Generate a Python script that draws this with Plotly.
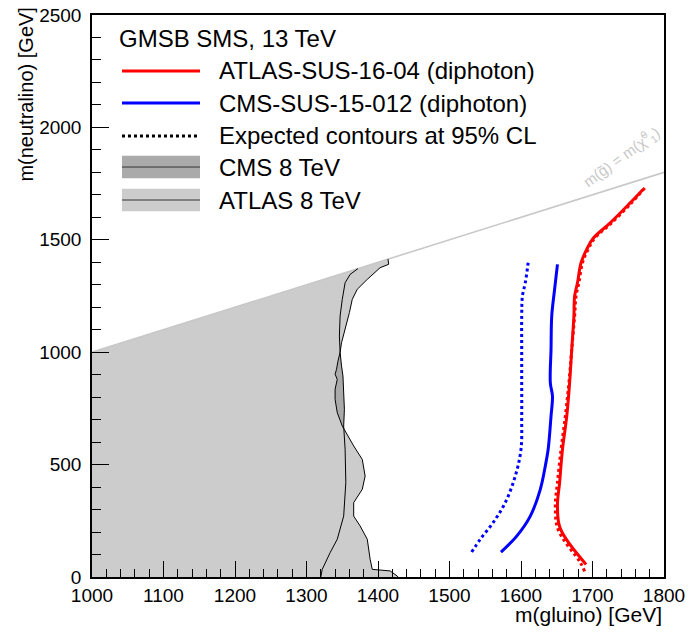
import plotly.graph_objects as go

# ---------------- data ----------------
# ATLAS-SUS-16-04 observed (red solid)
atlas13_obs_x = [1691, 1655, 1651, 1654, 1658, 1664, 1668, 1671, 1674, 1675, 1679, 1684, 1692, 1701, 1724, 1752, 1771]
atlas13_obs_y = [56, 215, 316, 420, 568, 716, 864, 1013, 1161, 1250, 1309, 1398, 1458, 1507, 1573, 1662, 1725]
# ATLAS expected (red dotted)
atlas13_exp_x = [1689, 1683, 1652, 1648, 1651, 1656, 1662, 1667, 1671, 1675, 1677, 1681, 1686, 1694, 1703, 1726, 1754, 1773]
atlas13_exp_y = [25, 64, 210, 316, 420, 568, 716, 864, 1013, 1161, 1250, 1309, 1398, 1458, 1507, 1573, 1662, 1730]
# CMS-SUS-15-012 observed (blue solid)
cms13_obs_x = [1572, 1594, 1613, 1627, 1634, 1638, 1642, 1644, 1641, 1642, 1643, 1647, 1651]
cms13_obs_y = [111, 182, 271, 390, 494, 568, 716, 805, 864, 1013, 1161, 1280, 1391]
# CMS expected (blue dotted)
cms13_exp_x = [1531, 1543, 1561, 1578, 1592, 1600, 1601, 1601, 1601, 1601, 1602, 1606, 1610]
cms13_exp_y = [111, 168, 242, 331, 449, 568, 716, 864, 1013, 1161, 1250, 1309, 1398]
# CMS 8 TeV exclusion boundary
cms8_x = [1320, 1322, 1333, 1343, 1352, 1355, 1354, 1352, 1353, 1352, 1351, 1349, 1347, 1346, 1347, 1350, 1354, 1361, 1372]
cms8_y = [0, 34, 108, 168, 271, 420, 568, 672, 746, 820, 894, 939, 1000, 1072, 1161, 1235, 1309, 1346, 1372]
# ATLAS 8 TeV exclusion boundary
atlas8_x = [1428, 1427, 1417, 1392, 1389, 1385, 1375, 1366, 1366, 1378, 1382, 1378, 1366, 1350, 1343, 1340, 1340, 1343, 1340, 1342, 1344, 1347, 1349, 1354, 1360, 1364, 1371, 1385, 1403, 1415, 1414]
atlas8_y = [0, 4, 27, 34, 79, 168, 227, 271, 331, 390, 449, 523, 583, 672, 731, 790, 835, 879, 902, 924, 960, 1000, 1042, 1102, 1176, 1235, 1280, 1324, 1376, 1391, 1414]
# kinematic limit m(gluino) = m(neutralino)
diag_x = [1000, 1800]
diag_y = [1000, 1800]

x_ticks = [1000, 1100, 1200, 1300, 1400, 1500, 1600, 1700, 1800]
y_ticks = [0, 500, 1000, 1500, 2000, 2500]

FONT = "Liberation Sans, Arial, Helvetica, sans-serif"
LEG_SIZE = 24

fig = go.Figure()


def region(bx, by, color):
    # polygon: lower-left corner, boundary upward, back along the diagonal
    px = [1000] + bx + [1000, 1000]
    py = [0] + by + [1000, 0]
    fig.add_trace(go.Scatter(x=px, y=py, mode="lines", fill="toself",
                             fillcolor=color, line=dict(width=0, color=color),
                             hoverinfo="skip", showlegend=False))


region(cms8_x, cms8_y, "#aaaaaa")
region(atlas8_x, atlas8_y, "#cccccc")

fig.add_trace(go.Scatter(x=diag_x, y=diag_y, mode="lines",
                         line=dict(color="#c8c8c8", width=1.6), showlegend=False))
fig.add_trace(go.Scatter(x=cms8_x, y=cms8_y, mode="lines",
                         line=dict(color="black", width=1), showlegend=False))
fig.add_trace(go.Scatter(x=atlas8_x, y=atlas8_y, mode="lines",
                         line=dict(color="black", width=1), showlegend=False))

fig.add_trace(go.Scatter(x=cms13_exp_x, y=cms13_exp_y, mode="lines",
                         line=dict(color="#0000ff", width=3, dash="dot", shape="spline"), showlegend=False))
fig.add_trace(go.Scatter(x=cms13_obs_x, y=cms13_obs_y, mode="lines",
                         line=dict(color="#0000ff", width=3, shape="spline"), showlegend=False))
fig.add_trace(go.Scatter(x=atlas13_exp_x, y=atlas13_exp_y, mode="lines",
                         line=dict(color="#ff0000", width=3, dash="dot", shape="spline"), showlegend=False))
fig.add_trace(go.Scatter(x=atlas13_obs_x, y=atlas13_obs_y, mode="lines",
                         line=dict(color="#ff0000", width=3, shape="spline"), showlegend=False))

# ---------------- legend (drawn manually) ----------------
lx0, lx1, ltext = 0.0524, 0.1888, 0.2185
rows = [0.9004, 0.8434, 0.7847, 0.7295, 0.6708]
labels = ["ATLAS-SUS-16-04 (diphoton)", "CMS-SUS-15-012 (diphoton)",
          "Expected contours at 95% CL", "CMS 8 TeV", "ATLAS 8 TeV"]
shapes = []
shapes.append(dict(type="line", xref="paper", yref="paper", x0=lx0, x1=lx1, y0=rows[0], y1=rows[0],
                   line=dict(color="#ff0000", width=3)))
shapes.append(dict(type="line", xref="paper", yref="paper", x0=lx0, x1=lx1, y0=rows[1], y1=rows[1],
                   line=dict(color="#0000ff", width=3)))
shapes.append(dict(type="line", xref="paper", yref="paper", x0=lx0, x1=lx1, y0=rows[2], y1=rows[2],
                   line=dict(color="black", width=3, dash="dot")))
for r, col in [(rows[3], "#aaaaaa"), (rows[4], "#cccccc")]:
    shapes.append(dict(type="rect", xref="paper", yref="paper", x0=lx0, x1=lx1, y0=r - 0.0200, y1=r + 0.0200,
                       fillcolor=col, line=dict(width=0)))
    shapes.append(dict(type="line", xref="paper", yref="paper", x0=lx0, x1=lx1, y0=r, y1=r,
                       line=dict(color="#333333", width=1)))

annotations = [dict(text="GMSB SMS, 13 TeV", xref="paper", yref="paper", x=0.0437, y=0.959,
                    xanchor="left", yanchor="middle", showarrow=False,
                    font=dict(size=LEG_SIZE, color="black", family=FONT))]
for r, t in zip(rows, labels):
    annotations.append(dict(text=t, xref="paper", yref="paper", x=ltext, y=r, xanchor="left", yanchor="middle",
                            showarrow=False, font=dict(size=LEG_SIZE, color="black", family=FONT)))

annotations.append(dict(text="m(g\u0303) = m(\u03c7\u0303<sup>0</sup><sub>1</sub>)", x=1740, y=1872,
                        xref="x", yref="y", showarrow=False, textangle=-36,
                        font=dict(size=15, color="#c8c8c8", family=FONT)))
annotations.append(dict(text="m(gluino) [GeV]", xref="paper", yref="paper", x=1.0, y=-0.067,
                        xanchor="right", yanchor="middle", showarrow=False,
                        font=dict(size=21, color="black", family=FONT)))
annotations.append(dict(text="m(neutralino) [GeV]", xref="paper", yref="paper", x=-0.115, y=1.018,
                        xanchor="center", yanchor="top", textangle=-90, showarrow=False,
                        font=dict(size=20, color="black", family=FONT)))

fig.update_layout(
    width=690, height=636,
    margin=dict(l=92, r=26, t=15, b=59),
    paper_bgcolor="white", plot_bgcolor="white",
    shapes=shapes, annotations=annotations,
    font=dict(family=FONT, size=19, color="black"),
    xaxis=dict(range=[1000, 1800], tickvals=x_ticks, ticks="inside", ticklen=16, tickwidth=1,
               tickcolor="black", showgrid=False, zeroline=False, showline=True, linecolor="black",
               linewidth=1.5, mirror=True, automargin=False, tickfont=dict(size=19, family=FONT),
               ticklabelstandoff=0,
               minor=dict(dtick=20, ticks="inside", ticklen=8, tickcolor="black", tickwidth=1, showgrid=False)),
    yaxis=dict(range=[0, 2500], tickvals=y_ticks, ticks="inside", ticklen=17, tickwidth=1,
               tickcolor="black", showgrid=False, zeroline=False, showline=True, linecolor="black",
               linewidth=1.5, mirror=True, automargin=False, tickfont=dict(size=19, family=FONT),
               ticklabelstandoff=5,
               minor=dict(dtick=100, ticks="inside", ticklen=9, tickcolor="black", tickwidth=1, showgrid=False)),
)

fig.write_html("out.html", post_script="document.body.style.margin='0px';",
               config={"displayModeBar": False})
